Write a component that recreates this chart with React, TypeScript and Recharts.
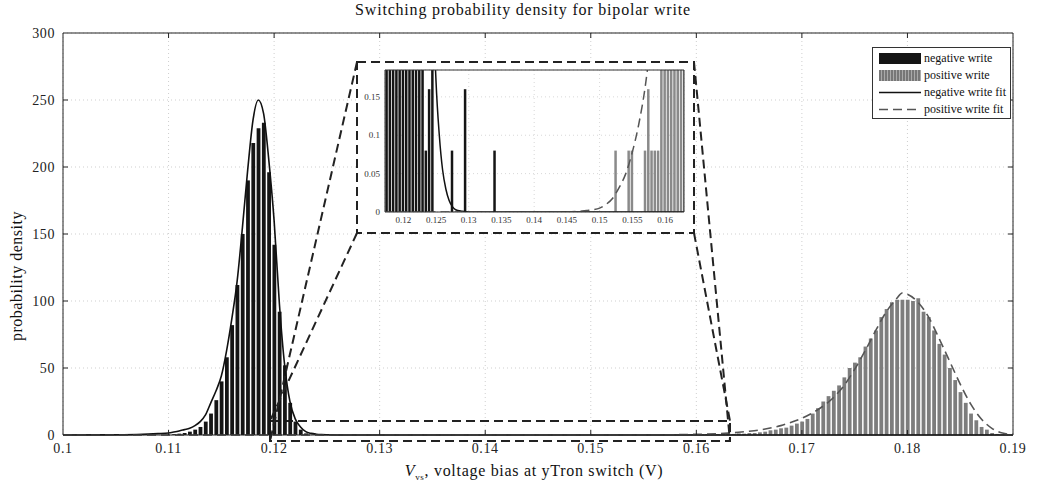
import React from "react";
import {
  ComposedChart, Bar, Line, XAxis, YAxis, CartesianGrid, ReferenceLine, ReferenceArea,
} from "recharts";

const FONT = "'Liberation Serif', 'Times New Roman', serif";

// axes
const X_TICKS = [0.1, 0.11, 0.12, 0.13, 0.14, 0.15, 0.16, 0.17, 0.18, 0.19];
const Y_TICKS = [0, 50, 100, 150, 200, 250, 300];
const INSET_X_TICKS = [0.12, 0.125, 0.13, 0.135, 0.14, 0.145, 0.15, 0.155, 0.16];
const INSET_Y_TICKS = [0, 0.05, 0.1, 0.15];

// negative write histogram (bin centres, density)
const NEG_BIN_X = [
  0.1105, 0.111, 0.1115, 0.112, 0.1125, 0.113, 0.1135, 0.114, 0.1145, 0.115,
  0.1155, 0.116, 0.1165, 0.117, 0.1175, 0.118, 0.1185, 0.119, 0.1195, 0.12,
  0.1205, 0.121, 0.1215, 0.122, 0.1225, 0.123, 0.1235, 0.124, 0.1245, 0.1275,
  0.1295, 0.134,
];
const NEG_BIN_Y = [
  0.6, 1, 1.5, 2.5, 4, 6, 10, 16, 26, 40,
  58, 82, 112, 150, 190, 218, 229, 233, 196, 142,
  92, 52, 24, 10, 4, 1.2, 0.08, 0.16, 0.24, 0.08,
  0.16, 0.08,
];

// positive write histogram
const POS_BIN_X = [
  0.1525, 0.1545, 0.155, 0.157, 0.1575, 0.158, 0.1585, 0.159, 0.1595, 0.16,
  0.1605, 0.161, 0.1615, 0.162, 0.1625, 0.163, 0.1635, 0.164, 0.1645, 0.165,
  0.1655, 0.166, 0.1665, 0.167, 0.1675, 0.168, 0.1685, 0.169, 0.1695, 0.17,
  0.1705, 0.171, 0.1715, 0.172, 0.1725, 0.173, 0.1735, 0.174, 0.1745, 0.175,
  0.1755, 0.176, 0.1765, 0.177, 0.1775, 0.178, 0.1785, 0.179, 0.1795, 0.18,
  0.1805, 0.181, 0.1815, 0.182, 0.1825, 0.183, 0.1835, 0.184, 0.1845, 0.185,
  0.1855, 0.186, 0.1865, 0.187, 0.1875, 0.188, 0.1885, 0.189,
];
const POS_BIN_Y = [
  0.08, 0.08, 0.08, 0.08, 0.16, 0.08, 0.08, 0.08, 0.3, 0.4,
  0.3, 0.6, 0.5, 0.7, 0.8, 1, 0.8, 1.2, 1, 1.5,
  1.5, 2, 2.5, 3.5, 4, 5, 5.5, 7, 8.5, 10,
  12, 16, 20, 25, 29, 33, 37, 43, 50, 54,
  58, 66, 72, 78, 88, 94, 99, 101, 101, 101,
  100, 102, 92, 88, 78, 68, 60, 50, 41, 32,
  24, 16, 11, 6, 4, 1.5, 0.8, 0.3,
];

// fitted curves
const NEG_FIT_X = [
  0.1, 0.104, 0.107, 0.109, 0.11, 0.1105, 0.111, 0.1115, 0.112, 0.1125,
  0.113, 0.1135, 0.114, 0.1145, 0.115, 0.1155, 0.116, 0.1165, 0.117, 0.1175,
  0.118, 0.1185, 0.119, 0.1195, 0.12, 0.1205, 0.121, 0.1215, 0.122, 0.1225,
  0.123, 0.1235, 0.124, 0.1245, 0.125, 0.1255, 0.126, 0.1265, 0.127, 0.1275,
  0.128, 0.129, 0.13, 0.14, 0.15, 0.16, 0.17, 0.18, 0.19,
];
const NEG_FIT_Y = [
  0, 0.1, 0.4, 1, 1.5, 2.2, 3, 4, 5, 7,
  10, 15, 24, 33, 44, 63, 87, 115, 155, 198,
  235, 250, 240, 205, 160, 98, 52, 25, 12, 6,
  2.5, 1.2, 0.6, 0.3, 0.17, 0.1, 0.055, 0.03, 0.015, 0.007,
  0.003, 0.001, 0, 0, 0, 0, 0, 0, 0,
];
const POS_FIT_X = [
  0.1, 0.12, 0.14, 0.145, 0.147, 0.148, 0.149, 0.15, 0.151, 0.152,
  0.153, 0.154, 0.155, 0.156, 0.157, 0.158, 0.159, 0.16, 0.161, 0.162,
  0.163, 0.164, 0.165, 0.166, 0.167, 0.168, 0.169, 0.17, 0.171, 0.172,
  0.173, 0.174, 0.175, 0.176, 0.177, 0.178, 0.179, 0.1795, 0.18, 0.181,
  0.182, 0.183, 0.184, 0.185, 0.186, 0.187, 0.188, 0.189, 0.19,
];
const POS_FIT_Y = [
  0, 0, 0, 0.0003, 0.001, 0.002, 0.003, 0.005, 0.01, 0.018,
  0.032, 0.05, 0.078, 0.115, 0.165, 0.24, 0.35, 0.5, 0.72, 1,
  1.4, 2, 2.8, 3.8, 5.2, 7, 9.5, 12.5, 16.5, 21.5,
  28, 37, 49, 63, 78, 92, 102, 106, 105, 99,
  88, 72, 55, 38, 23, 12, 5, 1.5, 0.4,
];

type Row = { x: number; neg?: number; pos?: number; negFit?: number; posFit?: number };
const rowMap = new Map<string, Row>();
function put(xs: number[], ys: number[], field: keyof Row) {
  xs.forEach((x, i) => {
    const k = x.toFixed(4);
    const r = rowMap.get(k) ?? { x };
    (r as any)[field] = ys[i];
    rowMap.set(k, r);
  });
}
put(NEG_BIN_X, NEG_BIN_Y, "neg");
put(POS_BIN_X, POS_BIN_Y, "pos");
put(NEG_FIT_X, NEG_FIT_Y, "negFit");
put(POS_FIT_X, POS_FIT_Y, "posFit");
const rows = [...rowMap.values()].sort((a, b) => a.x - b.x);

// layout (px) of the main plot area
const W = 1042, H = 487;
const PL = 63, PR = 1013, PT = 33, PB = 435;
const X_DOM: [number, number] = [0.1, 0.19];
const Y_DOM: [number, number] = [0, 300];
const pxX = (px: number) => X_DOM[0] + ((px - PL) / (PR - PL)) * (X_DOM[1] - X_DOM[0]);
const pxY = (py: number) => Y_DOM[0] + ((PB - py) / (PB - PT)) * (Y_DOM[1] - Y_DOM[0]);

// inset box and zoom window
const BOX = { l: 357, t: 62, r: 694, b: 233 };
const ZOOM = { l: 270, t: 421, r: 730, b: 441 };
const INSET_PLOT = { l: 385, t: 70, r: 684, b: 212 };
const INSET_X_DOM: [number, number] = [0.1172, 0.1629];
const INSET_Y_DOM: [number, number] = [0, 0.185];

const TICK_DX = (5 * (X_DOM[1] - X_DOM[0])) / (PR - PL);
const TICK_DY = (5 * (Y_DOM[1] - Y_DOM[0])) / (PB - PT);

const dash = "9 5";
const tickStyle = { fill: "#222", fontSize: 14, fontFamily: FONT, letterSpacing: 0.6 };

function Legend() {
  const row: React.CSSProperties = { display: "flex", alignItems: "center", height: 17 };
  const txt: React.CSSProperties = { marginLeft: 3, fontSize: 12, color: "#111", whiteSpace: "nowrap" };
  return (
    <div style={{
      position: "absolute", left: 872, top: 47, width: 139, height: 72,
      border: "1px solid #333", background: "#fff", boxSizing: "border-box",
      padding: "2px 0 0 6px", fontFamily: FONT,
    }}>
      <div style={row}>
        <div style={{ width: 42, height: 11, background: "#151515" }} />
        <span style={txt}>negative write</span>
      </div>
      <div style={row}>
        <div style={{
          width: 42, height: 11,
          background: "repeating-linear-gradient(90deg, #777 0 2px, #aaa 2px 3px)",
        }} />
        <span style={txt}>positive write</span>
      </div>
      <div style={row}>
        <svg width={42} height={11}><line x1={0} y1={5.5} x2={42} y2={5.5} stroke="#111" strokeWidth={1.5} /></svg>
        <span style={txt}>negative write fit</span>
      </div>
      <div style={row}>
        <svg width={42} height={11}><line x1={0} y1={5.5} x2={42} y2={5.5} stroke="#555" strokeWidth={1.5} strokeDasharray="9 5" /></svg>
        <span style={txt}>positive write fit</span>
      </div>
    </div>
  );
}

export default function App() {
  const bx1 = pxX(BOX.l), bx2 = pxX(BOX.r), by1 = pxY(BOX.b), by2 = pxY(BOX.t);
  const zx1 = pxX(ZOOM.l), zx2 = pxX(ZOOM.r), zy1 = pxY(ZOOM.b), zy2 = pxY(ZOOM.t);

  const insetW = BOX.r - BOX.l, insetH = BOX.b - BOX.t;

  return (
    <div style={{ position: "absolute", left: 0, top: 0, width: W, height: H, background: "#fff", fontFamily: FONT }}>
      <ComposedChart
        width={W}
        height={H}
        data={rows}
        margin={{ top: PT, right: W - PR, bottom: H - PB - 30, left: PL - 40 }}
      >
        <CartesianGrid stroke="#cfcfcf" strokeDasharray="1 3" />
        <XAxis
          dataKey="x" type="number" domain={X_DOM} ticks={X_TICKS} height={30}
          tickLine={false} tickSize={4} tickMargin={4} axisLine={{ stroke: "#222" }}
          tick={tickStyle}
        />
        <YAxis
          type="number" domain={Y_DOM} ticks={Y_TICKS} width={40}
          tickLine={false} tickSize={4} tickMargin={4} axisLine={{ stroke: "#222" }}
          tick={tickStyle}
        />
        <ReferenceArea x1={bx1} x2={bx2} y1={by1} y2={by2} fill="#fff" fillOpacity={1}
          stroke="#222" strokeWidth={2} strokeDasharray={dash} ifOverflow="visible" />
        <Bar dataKey="neg" stackId="h" fill="#151515" barSize={3.8} isAnimationActive={false} />
        <Bar dataKey="pos" stackId="h" fill="#7d7d7d" barSize={3.8} isAnimationActive={false} />
        <Line dataKey="negFit" type="monotone" stroke="#111" strokeWidth={1.6} dot={false}
          connectNulls isAnimationActive={false} />
        <Line dataKey="posFit" type="monotone" stroke="#555" strokeWidth={1.6} dot={false}
          strokeDasharray="9 5" connectNulls isAnimationActive={false} />
        <ReferenceArea x1={zx1} x2={zx2} y1={zy1} y2={zy2} fill="none"
          stroke="#222" strokeWidth={2} strokeDasharray={dash} ifOverflow="visible" />
        <ReferenceLine segment={[{ x: bx1, y: by2 }, { x: zx1, y: zy1 }]} stroke="#222" strokeWidth={2} strokeDasharray={dash} ifOverflow="visible" />
        <ReferenceLine segment={[{ x: bx1, y: by1 }, { x: zx1, y: zy2 }]} stroke="#222" strokeWidth={2} strokeDasharray={dash} ifOverflow="visible" />
        <ReferenceLine segment={[{ x: bx2, y: by2 }, { x: zx2, y: zy1 }]} stroke="#222" strokeWidth={2} strokeDasharray={dash} ifOverflow="visible" />
        <ReferenceLine segment={[{ x: bx2, y: by1 }, { x: zx2, y: zy2 }]} stroke="#222" strokeWidth={2} strokeDasharray={dash} ifOverflow="visible" />
        <ReferenceLine y={Y_DOM[1]} stroke="#222" />
        <ReferenceLine x={X_DOM[1]} stroke="#222" />
        {X_TICKS.slice(1, -1).map((t) => (
          <ReferenceLine key={"xb" + t} segment={[{ x: t, y: Y_DOM[0] }, { x: t, y: Y_DOM[0] + TICK_DY }]} stroke="#222" />
        ))}
        {X_TICKS.slice(1, -1).map((t) => (
          <ReferenceLine key={"xt" + t} segment={[{ x: t, y: Y_DOM[1] }, { x: t, y: Y_DOM[1] - TICK_DY }]} stroke="#222" />
        ))}
        {Y_TICKS.slice(1, -1).map((t) => (
          <ReferenceLine key={"yl" + t} segment={[{ x: X_DOM[0], y: t }, { x: X_DOM[0] + TICK_DX, y: t }]} stroke="#222" />
        ))}
        {Y_TICKS.slice(1, -1).map((t) => (
          <ReferenceLine key={"yr" + t} segment={[{ x: X_DOM[1], y: t }, { x: X_DOM[1] - TICK_DX, y: t }]} stroke="#222" />
        ))}
      </ComposedChart>

      {/* inset */}
      <div style={{ position: "absolute", left: BOX.l, top: BOX.t, width: insetW, height: insetH }}>
        <ComposedChart
          width={insetW}
          height={insetH}
          data={rows}
          margin={{ top: INSET_PLOT.t - BOX.t, right: BOX.r - INSET_PLOT.r, bottom: 0, left: 0 }}
        >
          <CartesianGrid stroke="#d8d8d8" strokeDasharray="1 3" />
          <XAxis
            dataKey="x" type="number" domain={INSET_X_DOM} ticks={INSET_X_TICKS} allowDataOverflow
            height={BOX.b - INSET_PLOT.b} tickLine={false} tickSize={2} tickMargin={3}
            axisLine={{ stroke: "#333" }} tick={{ fill: "#333", fontSize: 9, fontFamily: FONT }}
          />
          <YAxis
            type="number" domain={INSET_Y_DOM} ticks={INSET_Y_TICKS} allowDataOverflow
            width={INSET_PLOT.l - BOX.l} tickLine={false} tickSize={2} tickMargin={3}
            axisLine={{ stroke: "#333" }} tick={{ fill: "#333", fontSize: 9, fontFamily: FONT }}
          />
          <Bar dataKey="neg" stackId="h" fill="#151515" barSize={2.5} isAnimationActive={false} />
          <Bar dataKey="pos" stackId="h" fill="#8a8a8a" barSize={2.5} isAnimationActive={false} />
          <Line dataKey="negFit" type="monotone" stroke="#111" strokeWidth={1.5} dot={false}
            connectNulls isAnimationActive={false} />
          <Line dataKey="posFit" type="monotone" stroke="#555" strokeWidth={1.5} dot={false}
            strokeDasharray="9 5" connectNulls isAnimationActive={false} />
          <ReferenceLine y={INSET_Y_DOM[1]} stroke="#333" />
          <ReferenceLine x={INSET_X_DOM[1]} stroke="#333" />
        </ComposedChart>
      </div>

      <Legend />

      <div style={{
        position: "absolute", left: 0, width: W, top: 1, textAlign: "center",
        fontSize: 16, letterSpacing: 0.8, color: "#111", paddingLeft: 4, boxSizing: "border-box",
      }}>
        Switching probability density for bipolar write
      </div>
      <div style={{
        position: "absolute", left: 17, top: 276, transform: "translate(-50%, -50%) rotate(-90deg)",
        fontSize: 16, letterSpacing: 0.5, color: "#111", whiteSpace: "nowrap",
      }}>
        probability density
      </div>
      <div style={{
        position: "absolute", left: 534, top: 472, transform: "translate(-50%, -50%)",
        fontSize: 16, letterSpacing: 0.7, color: "#111", whiteSpace: "nowrap",
      }}>
        <i>V</i><sub style={{ fontSize: 9 }}>vs</sub>, voltage bias at yTron switch (V)
      </div>
    </div>
  );
}
